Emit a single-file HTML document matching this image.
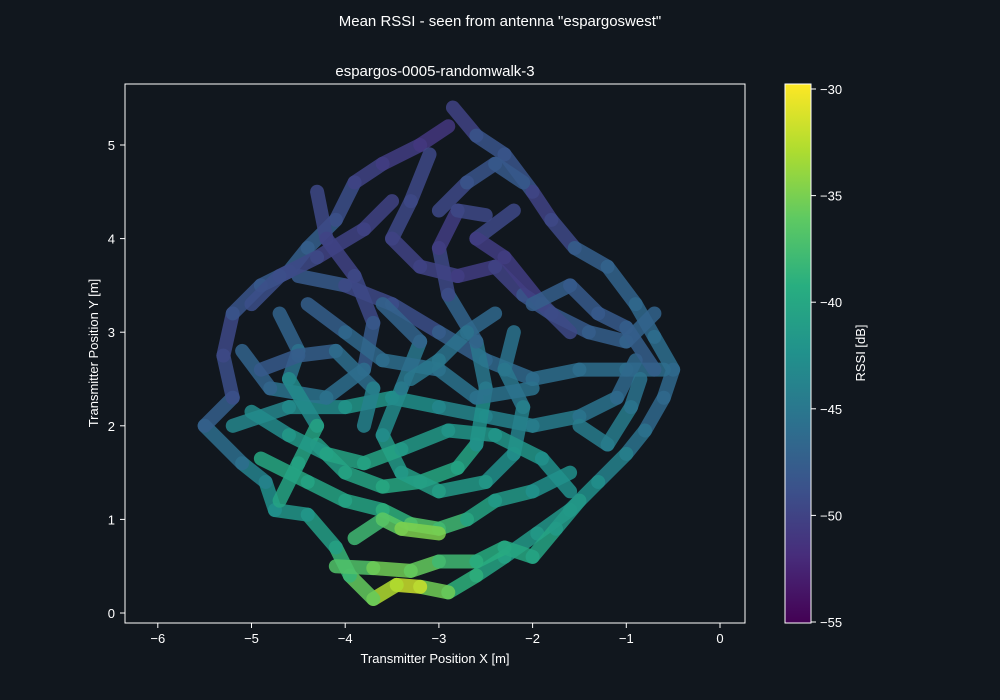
<!DOCTYPE html>
<html><head><meta charset="utf-8"><style>
body{margin:0;background:#11171e;}
svg{display:block;font-family:"Liberation Sans","DejaVu Sans",sans-serif;}
</style></head><body>
<svg id="chart" width="1000" height="700">
<defs><linearGradient id="vir" x1="0" y1="1" x2="0" y2="0">
<stop offset="0" stop-color="#440154"/><stop offset="0.125" stop-color="#472d7b"/><stop offset="0.25" stop-color="#3b528b"/><stop offset="0.375" stop-color="#2c728e"/><stop offset="0.5" stop-color="#21918c"/><stop offset="0.625" stop-color="#28ae80"/><stop offset="0.75" stop-color="#5ec962"/><stop offset="0.875" stop-color="#addc30"/><stop offset="1" stop-color="#fde725"/></linearGradient></defs>
<rect width="1000" height="700" fill="#11171e"/>
<text x="500" y="26" fill="#fff" font-size="15" text-anchor="middle">Mean RSSI - seen from antenna "espargoswest"</text>
<text x="435" y="76" fill="#fff" font-size="15" text-anchor="middle">espargos-0005-randomwalk-3</text>
<g id="marks"></g>
<rect x="125" y="84" width="620" height="539" fill="none" stroke="#fff" stroke-width="1"/>
<g id="axes"></g>
<rect x="785" y="84" width="26" height="539" fill="url(#vir)" stroke="#fff" stroke-width="1"/>
<g id="cbticks"></g>
<text transform="translate(865,353) rotate(-90)" fill="#fff" font-size="13" text-anchor="middle">RSSI [dB]</text>
<text x="435" y="663" fill="#fff" font-size="13" text-anchor="middle">Transmitter Position X [m]</text>
<text transform="translate(98,353) rotate(-90)" fill="#fff" font-size="13" text-anchor="middle">Transmitter Position Y [m]</text>
</svg>
<script>
const xTicks=[-6,-5,-4,-3,-2,-1,0];
const yTicks=[0,1,2,3,4,5];
const cbTicks=[-30,-35,-40,-45,-50,-55];
const pathA=[[-2.85,5.4,-51],[-2.6,5.1,-49],[-2.3,4.9,-48],[-2.0,4.5,-49],[-1.8,4.2,-51],[-1.55,3.9,-48],[-1.2,3.7,-47],[-0.9,3.3,-47],[-0.7,2.95,-46],[-0.5,2.6,-46],[-0.6,2.3,-47],[-0.8,1.95,-46],[-1.0,1.7,-45],[-1.3,1.4,-43],[-1.6,1.1,-42],[-1.95,0.85,-42],[-2.3,0.6,-41],[-2.6,0.4,-40],[-2.9,0.22,-38],[-3.2,0.28,-33],[-3.45,0.3,-31],[-3.7,0.15,-35],[-3.95,0.4,-37],[-4.1,0.7,-40],[-4.4,1.05,-42],[-4.75,1.1,-42],[-4.85,1.4,-43],[-5.1,1.6,-45],[-5.5,2.0,-47],[-5.2,2.3,-48],[-5.3,2.75,-50],[-5.2,3.2,-49],[-4.9,3.5,-48],[-4.6,3.65,-48],[-4.4,3.9,-47],[-4.1,4.2,-48],[-3.9,4.6,-50],[-3.6,4.8,-50],[-3.2,5.0,-51],[-2.9,5.2,-51]];
const pathB=[[-4.5,3.6,-47],[-4.0,3.5,-49],[-3.5,3.3,-50],[-3.0,3.0,-48],[-2.5,2.7,-47],[-2.0,2.5,-46],[-1.5,2.6,-46],[-1.0,2.6,-46],[-0.6,2.6,-46]];
const pathC=[[-5.2,2.0,-43],[-4.6,2.2,-44],[-4.0,2.2,-42],[-3.5,2.3,-42],[-3.0,2.2,-43],[-2.5,2.1,-44],[-2.0,2.0,-44],[-1.5,2.1,-45],[-1.1,2.3,-46],[-0.9,2.7,-47]];
const pathD=[[-4.9,1.65,-40],[-4.4,1.4,-40],[-4.0,1.2,-41],[-3.6,1.1,-40],[-3.3,0.95,-38],[-3.0,0.9,-36],[-2.7,1.0,-40],[-2.4,1.2,-41],[-2.0,1.3,-42],[-1.6,1.5,-43]];
const pathE=[[-4.1,0.5,-38],[-3.7,0.48,-36],[-3.3,0.45,-35],[-3.0,0.55,-37],[-2.6,0.55,-39],[-2.3,0.7,-40],[-2.0,0.6,-40],[-1.75,0.9,-41],[-1.5,1.2,-42]];
const pathF=[[-4.3,1.8,-41],[-4.0,1.5,-41],[-3.6,1.35,-40],[-3.2,1.4,-40],[-2.8,1.55,-40],[-2.6,1.8,-41],[-2.5,2.4,-44],[-2.6,2.9,-46],[-2.9,3.4,-48],[-3.0,3.9,-51],[-2.8,4.3,-50],[-2.5,4.25,-49]];
const pathG=[[-4.3,4.5,-49],[-4.2,4.0,-50],[-3.9,3.6,-50],[-3.7,3.1,-49],[-3.8,2.6,-47],[-4.2,2.3,-45],[-4.8,2.4,-46],[-5.1,2.8,-48]];
const pathH=[[-3.1,4.9,-50],[-3.3,4.4,-49],[-3.5,4.0,-50],[-3.2,3.7,-50],[-2.8,3.6,-50],[-2.4,3.7,-51],[-2.1,3.4,-49],[-1.8,3.2,-48],[-1.4,3.0,-48],[-1.0,2.9,-47],[-0.7,3.2,-47]];
const pathI=[[-2.2,3.0,-46],[-2.3,2.6,-45],[-2.1,2.2,-45],[-2.2,1.7,-43],[-2.5,1.4,-42],[-3.0,1.3,-41],[-3.4,1.5,-41],[-3.6,1.9,-42],[-3.4,2.4,-44],[-3.2,2.9,-46],[-3.6,3.3,-48]];
const pathJ=[[-4.7,3.2,-48],[-4.5,2.8,-46],[-4.6,2.5,-45],[-4.3,2.0,-41],[-4.5,1.6,-40],[-4.7,1.2,-41]];
const pathK=[[-3.5,4.4,-50],[-3.8,4.1,-50],[-4.3,3.8,-50],[-4.7,3.6,-49],[-5.0,3.3,-49]];
const pathL=[[-2.2,4.3,-49],[-2.6,4.0,-50],[-2.3,3.8,-51],[-1.9,3.3,-50],[-1.6,3.0,-49]];
const pathM=[[-1.5,2.0,-45],[-1.2,1.8,-44],[-0.95,2.2,-45],[-0.85,2.5,-46]];
const pathN=[[-3.9,0.8,-37],[-3.6,1.0,-39],[-3.4,0.9,-34],[-3.0,0.85,-36]];
const pathO=[[-4.4,3.3,-48],[-4.0,3.0,-47],[-3.6,2.7,-46],[-3.0,2.6,-46],[-2.6,2.3,-45],[-2.0,2.4,-46]];
const pathP=[[-5.0,2.15,-44],[-4.6,1.9,-42],[-4.2,1.7,-41],[-3.8,1.6,-40],[-3.4,1.75,-41],[-2.9,1.95,-42],[-2.4,1.9,-42],[-1.9,1.65,-42],[-1.6,1.3,-43]];
const pathQ=[[-2.0,3.3,-47],[-1.6,3.5,-48],[-1.3,3.2,-48],[-1.0,3.05,-48],[-0.7,2.6,-47]];
const pathR=[[-3.0,4.3,-50],[-2.7,4.6,-49],[-2.4,4.8,-48],[-2.1,4.6,-48]];
const pathS=[[-4.9,2.6,-48],[-4.5,2.75,-48],[-4.1,2.8,-47],[-3.7,2.4,-45],[-3.8,2.0,-43]];
const pathT=[[-2.4,3.2,-47],[-2.7,3.0,-46],[-3.0,2.7,-45],[-3.3,2.5,-45]];
const paths=[pathA,pathB,pathC,pathD,pathE,pathF,pathG,pathH,pathI,pathJ,pathK,pathL,pathM,pathN,pathO,pathP,pathQ,pathR,pathS,pathT];

const NS='http://www.w3.org/2000/svg';
const sx=v=>720+v*93.7, sy=v=>613-v*93.6, sc=v=>622-(v+55)*21.32;
const stops=[[68,1,84],[71,45,123],[59,82,139],[44,114,142],[33,145,140],[40,174,128],[94,201,98],[173,220,48],[253,231,37]];
function vir(v){let t=Math.max(0,Math.min(1,(v+55)/25))*8,i=Math.min(7,Math.floor(t)),f=t-i;const a=stops[i],b=stops[i+1];return 'rgb('+a.map((c,k)=>Math.round(c+(b[k]-c)*f)).join(',')+')';}
const marks=document.getElementById('marks');
paths.forEach((p,pi)=>{for(let i=0;i<p.length-1;i++){const a=p[i],b=p[i+1];
const l=document.createElementNS(NS,'line');


l.setAttribute('x1',sx(a[0]));l.setAttribute('y1',sy(a[1]));l.setAttribute('x2',sx(b[0]));l.setAttribute('y2',sy(b[1]));
l.setAttribute('stroke',vir((a[2]+b[2])/2));l.setAttribute('stroke-width','14');l.setAttribute('stroke-linecap','round');l.setAttribute('opacity','0.85');
marks.appendChild(l);}});
const ax=document.getElementById('axes');
function mk(tag,attrs,txt){const e=document.createElementNS(NS,tag);for(const k in attrs)e.setAttribute(k,attrs[k]);if(txt!==undefined)e.textContent=txt;return e;}
xTicks.forEach(t=>{const x=sx(t);
const tk=mk('line',{x1:x,x2:x,y1:623,y2:628,stroke:'#fff'});ax.appendChild(tk);
const lb=mk('text',{x:x,y:643,fill:'#fff','font-size':13,'text-anchor':'middle'},t===0?'0':'\u2212'+Math.abs(t));ax.appendChild(lb);});
yTicks.forEach(t=>{const y=sy(t);
const tk=mk('line',{x1:120,x2:125,y1:y,y2:y,stroke:'#fff'});ax.appendChild(tk);
const lb=mk('text',{x:115,y:y+5,fill:'#fff','font-size':13,'text-anchor':'end'},String(t));ax.appendChild(lb);});
const cb=document.getElementById('cbticks');
cbTicks.forEach(t=>{const y=sc(t);
const tk=mk('line',{x1:811,x2:816,y1:y,y2:y,stroke:'#fff'});cb.appendChild(tk);
const lb=mk('text',{x:820,y:y+5,fill:'#fff','font-size':13},'\u2212'+Math.abs(t));cb.appendChild(lb);});
</script>
</body></html>
